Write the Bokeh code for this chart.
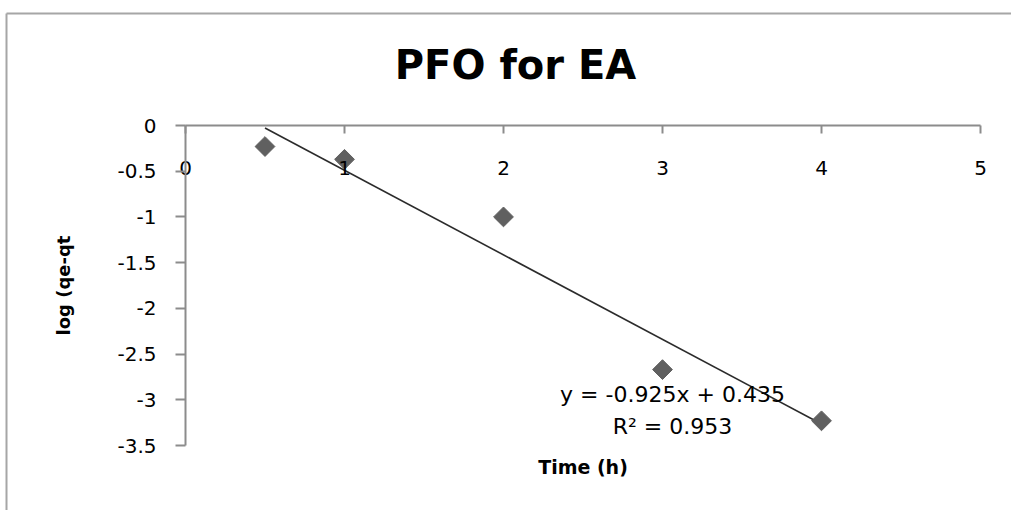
from math import pi

from bokeh.plotting import figure
from bokeh.models import Range1d, FixedTicker, Label
from bokeh.embed import file_html
from bokeh.resources import INLINE

# Pseudo-first-order kinetics data
time_h = [0.5, 1, 2, 3, 4]
log_qe_qt = [-0.23, -0.37, -1.0, -2.67, -3.23]

# Linear trend line coefficients
fit_slope = -0.925
fit_intercept = 0.435
fit_r2 = 0.953

x_ticks = [0, 1, 2, 3, 4, 5]
y_ticks = [0, -0.5, -1, -1.5, -2, -2.5, -3, -3.5]
y_tick_labels = ["0", "-0.5", "-1", "-1.5", "-2", "-2.5", "-3", "-3.5"]
x_limits = (0, 5)
y_limits = (-3.5, 0)

# Canvas size and where the plot area sits on it (pixels)
W, H = 1011, 510
AREA_LEFT, AREA_RIGHT = 185, 980
AREA_TOP, AREA_BOTTOM = 125, 445

# The frame covers the whole canvas; ranges are chosen so the axes land
# on the plot-area rectangle above.
sx = (AREA_RIGHT - AREA_LEFT) / (x_limits[1] - x_limits[0])
sy = (AREA_BOTTOM - AREA_TOP) / (y_limits[1] - y_limits[0])
x_range = Range1d(x_limits[0] - AREA_LEFT / sx, x_limits[1] + (W - AREA_RIGHT) / sx)
y_range = Range1d(y_limits[0] - (H - AREA_BOTTOM) / sy, y_limits[1] + AREA_TOP / sy)


def px_to_x(px):
    return x_limits[0] + (px - AREA_LEFT) / sx


def px_to_y(py):
    return y_limits[1] - (py - AREA_TOP) / sy


AXIS_GREY = "#8c8c8c"
FONT = "DejaVu Sans"

p = figure(
    width=W, height=H,
    output_backend="svg", toolbar_location=None,
    x_range=x_range, y_range=y_range,
    min_border=0,
)
p.background_fill_color = "white"
p.border_fill_color = "white"
p.outline_line_color = None
p.grid.visible = False

# x axis sits on y = 0, labels beneath it
xa = p.xaxis[0]
xa.fixed_location = 0
xa.bounds = x_limits
xa.ticker = FixedTicker(ticks=x_ticks)
xa.minor_tick_line_color = None
xa.major_tick_out = 8
xa.major_tick_in = 0
xa.major_label_standoff = 27
xa.axis_line_color = AXIS_GREY
xa.axis_line_width = 2
xa.major_tick_line_color = AXIS_GREY
xa.major_tick_line_width = 2
xa.major_label_text_font = FONT
xa.major_label_text_font_size = "20px"
xa.major_label_text_color = "black"

ya = p.yaxis[0]
ya.fixed_location = 0
ya.bounds = y_limits
ya.ticker = FixedTicker(ticks=y_ticks)
ya.major_label_overrides = dict(zip(y_ticks, y_tick_labels))
ya.minor_tick_line_color = None
ya.major_tick_out = 10
ya.major_tick_in = 0
ya.major_label_standoff = 19
ya.axis_line_color = AXIS_GREY
ya.axis_line_width = 2
ya.major_tick_line_color = AXIS_GREY
ya.major_tick_line_width = 2
ya.major_label_text_font = FONT
ya.major_label_text_font_size = "20px"
ya.major_label_text_color = "black"
ya.axis_label = "log (qe-qt"
ya.axis_label_text_font = FONT
ya.axis_label_text_font_style = "bold"
ya.axis_label_text_font_size = "18px"
ya.axis_label_text_color = "black"
ya.axis_label_standoff = 40

# Chart area border (left and top edges; the rest runs off the canvas)
BORDER_GREY = "#a6a6a6"
p.line([px_to_x(6), px_to_x(6)], [px_to_y(13), px_to_y(H)],
       line_color=BORDER_GREY, line_width=2)
p.line([px_to_x(6), px_to_x(W)], [px_to_y(13), px_to_y(13)],
       line_color=BORDER_GREY, line_width=2)

# Trend line drawn from the fitted equation over the data span
fit_x = [min(time_h), max(time_h)]
fit_y = [fit_slope * x + fit_intercept for x in fit_x]
p.line(fit_x, fit_y, line_color="#2b2b2b", line_width=1.6)

# Measured points as grey diamonds
p.scatter(time_h, log_qe_qt, marker="square", angle=pi / 4, size=14,
          fill_color="#606060", line_color="#606060")

# Chart title
p.add_layout(Label(x=px_to_x(515), y=px_to_y(64), text="PFO for EA", text_font=FONT,
                   text_font_style="bold", text_font_size="40px",
                   text_align="center", text_baseline="alphabetic",
                   text_color="black"))

# x axis title
p.add_layout(Label(x=(x_limits[0] + x_limits[1]) / 2, y=px_to_y(466), text="Time (h)",
                   text_font=FONT, text_font_style="bold", text_font_size="19px",
                   text_align="center", text_baseline="middle",
                   text_color="black"))

# Trend line equation and R²
eq_text = f"y = {fit_slope}x + {fit_intercept}"
r2_text = f"R² = {fit_r2}"
p.add_layout(Label(x=px_to_x(672), y=px_to_y(394), text=eq_text, text_font=FONT,
                   text_font_size="22px", text_align="center",
                   text_baseline="middle", text_color="black"))
p.add_layout(Label(x=px_to_x(672), y=px_to_y(426), text=r2_text, text_font=FONT,
                   text_font_size="22px", text_align="center",
                   text_baseline="middle", text_color="black"))

open("out.html", "w").write(file_html(p, INLINE))
